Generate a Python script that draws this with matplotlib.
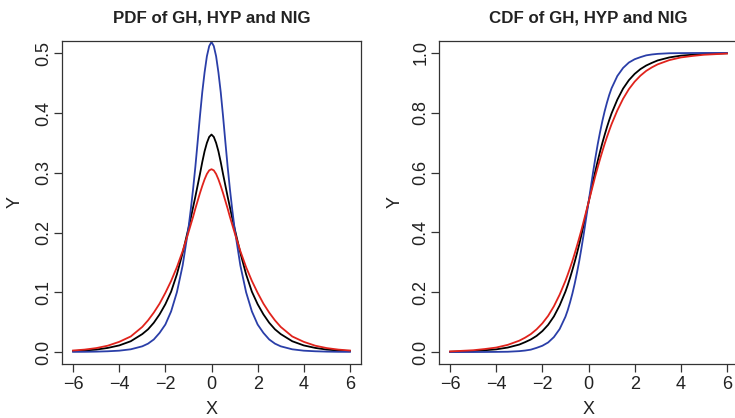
import numpy as np
import matplotlib
matplotlib.use('Agg')
import matplotlib.pyplot as plt

plt.rcParams['font.family'] = ['Liberation Sans', 'DejaVu Sans']

## values
x = [-6, -5.5, -5, -4.5, -4, -3.5, -3, -2.75, -2.5, -2.25, -2, -1.75, -1.5, -1.25,
     -1.0, -0.9, -0.8, -0.7, -0.6, -0.5, -0.4, -0.3, -0.2, -0.1,
     0,
     0.1, 0.2, 0.3, 0.4, 0.5, 0.6, 0.7, 0.8, 0.9, 1.0,
     1.25, 1.5, 1.75, 2, 2.25, 2.5, 2.75, 3, 3.5, 4, 4.5, 5, 5.5, 6]

pdf_blue  = [0.0002, 0.0003, 0.0006, 0.0012, 0.0022, 0.0045, 0.0095, 0.014, 0.021, 0.032,
             0.046, 0.068, 0.100, 0.145,
             0.207, 0.238, 0.272, 0.310, 0.352, 0.395, 0.435, 0.468, 0.495, 0.512,
             0.519,
             0.512, 0.495, 0.468, 0.435, 0.395, 0.352, 0.310, 0.272, 0.238, 0.207,
             0.145, 0.100, 0.068, 0.046, 0.032, 0.021, 0.014, 0.0095, 0.0045, 0.0022,
             0.0012, 0.0006, 0.0003, 0.0002]
pdf_black = [0.0015, 0.0025, 0.004, 0.0068, 0.011, 0.018, 0.030, 0.038, 0.049, 0.063,
             0.080, 0.101, 0.130, 0.166,
             0.207, 0.224, 0.242, 0.260, 0.279, 0.298, 0.318, 0.336, 0.350, 0.360,
             0.364,
             0.360, 0.350, 0.336, 0.318, 0.298, 0.279, 0.260, 0.242, 0.224, 0.207,
             0.166, 0.130, 0.101, 0.080, 0.063, 0.049, 0.038, 0.030, 0.018, 0.011,
             0.0068, 0.004, 0.0025, 0.0015]
pdf_red   = [0.0025, 0.004, 0.0065, 0.0105, 0.017, 0.026, 0.042, 0.053, 0.066, 0.081,
             0.099, 0.119, 0.142, 0.169,
             0.200, 0.213, 0.226, 0.240, 0.253, 0.266, 0.278, 0.289, 0.298, 0.304,
             0.306,
             0.304, 0.298, 0.289, 0.278, 0.266, 0.253, 0.240, 0.226, 0.213, 0.200,
             0.169, 0.142, 0.119, 0.099, 0.081, 0.066, 0.053, 0.042, 0.026, 0.017,
             0.0105, 0.0065, 0.004, 0.0025]

cdf_blue  = [0.0, 0.0, 0.0, 0.0002, 0.0005, 0.001, 0.003, 0.005, 0.008, 0.014,
             0.021, 0.032, 0.050, 0.077,
             0.118, 0.140, 0.166, 0.195, 0.228, 0.265, 0.305, 0.350, 0.398, 0.449,
             0.5,
             0.551, 0.602, 0.650, 0.695, 0.735, 0.772, 0.805, 0.834, 0.860, 0.882,
             0.923, 0.950, 0.968, 0.979, 0.986, 0.992, 0.995, 0.997, 0.999, 0.9995,
             0.9998, 1.0, 1.0, 1.0]
cdf_black = [0.001, 0.002, 0.003, 0.006, 0.009, 0.015, 0.025, 0.033, 0.042, 0.054,
             0.070, 0.091, 0.119, 0.156,
             0.202, 0.224, 0.248, 0.274, 0.301, 0.330, 0.361, 0.394, 0.428, 0.464,
             0.5,
             0.536, 0.572, 0.606, 0.639, 0.670, 0.699, 0.726, 0.752, 0.776, 0.798,
             0.844, 0.881, 0.909, 0.930, 0.946, 0.958, 0.967, 0.975, 0.985, 0.991,
             0.994, 0.997, 0.998, 0.999]
cdf_red   = [0.002, 0.004, 0.006, 0.010, 0.015, 0.024, 0.038, 0.048, 0.060, 0.076,
             0.096, 0.121, 0.153, 0.192,
             0.238, 0.259, 0.281, 0.304, 0.329, 0.355, 0.382, 0.410, 0.440, 0.470,
             0.5,
             0.530, 0.560, 0.590, 0.618, 0.645, 0.671, 0.696, 0.719, 0.741, 0.762,
             0.808, 0.847, 0.879, 0.904, 0.924, 0.940, 0.952, 0.962, 0.976, 0.985,
             0.990, 0.994, 0.996, 0.998]

x_ticks = [-6, -4, -2, 0, 2, 4, 6]
pdf_ticks = [0.0, 0.1, 0.2, 0.3, 0.4, 0.5]
cdf_ticks = [0.0, 0.2, 0.4, 0.6, 0.8, 1.0]

col_blue = '#2a3ea8'
col_red = '#e0231c'
col_black = '#000000'
txt_col = '#222222'

fig = plt.figure(figsize=(7.35, 4.18), dpi=100)
ax1 = fig.add_axes([62/735., 1 - 364/418., 299/735., 323/418.])
ax2 = fig.add_axes([439/735., 1 - 364/418., 299/735., 323/418.])


def style_ax(ax, yticks, ylim, title):
    ax.set_xlim(-6.48, 6.48)
    ax.set_ylim(*ylim)
    ax.set_xticks(x_ticks)
    ax.set_xticklabels([('\u2212%d' % -t) if t < 0 else '%d' % t for t in x_ticks])
    ax.set_yticks(yticks)
    ax.set_yticklabels(['%.1f' % t for t in yticks], rotation=90, va='center')
    ax.tick_params(direction='out', length=6, width=0.9, colors='#333333',
                   labelcolor=txt_col, labelsize=13)
    ax.tick_params(axis='x', pad=2.5)
    ax.tick_params(axis='y', pad=1)
    for s in ax.spines.values():
        s.set_linewidth(0.9)
        s.set_color('#333333')
    ax.text(0.5, 1.071, title, transform=ax.transAxes, ha='center', va='center',
            fontsize=12.2, fontweight='bold', color=txt_col)
    ax.set_xlabel('X', fontsize=13, color=txt_col)
    ax.set_ylabel('Y', fontsize=13, color=txt_col)


ax1.plot(x, pdf_black, color=col_black, lw=1.3)
ax1.plot(x, pdf_blue, color=col_blue, lw=1.3)
ax1.plot(x, pdf_red, color=col_red, lw=1.3)
style_ax(ax1, pdf_ticks, (-0.0201, 0.5206), 'PDF of GH, HYP and NIG')
ax1.xaxis.set_label_coords(0.5, -0.114)
ax1.yaxis.set_label_coords(-0.129, 0.5)

ax2.plot(x, cdf_black, color=col_black, lw=1.3)
ax2.plot(x, cdf_blue, color=col_blue, lw=1.3)
ax2.plot(x, cdf_red, color=col_red, lw=1.3)
style_ax(ax2, cdf_ticks, (-0.04, 1.04), 'CDF of GH, HYP and NIG')
ax2.xaxis.set_label_coords(0.5, -0.114)
ax2.yaxis.set_label_coords(-0.119, 0.5)

fig.savefig('out.png', dpi=100)
